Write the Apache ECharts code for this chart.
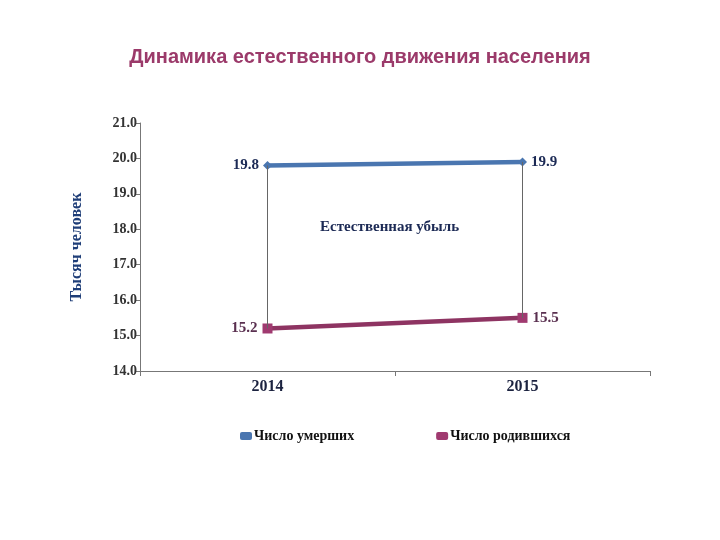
<!DOCTYPE html>
<html><head><meta charset="utf-8">
<script src="https://cdn.jsdelivr.net/npm/echarts@6/dist/echarts.min.js"></script>
<style>html,body{margin:0;padding:0;background:#fff}#c{width:720px;height:540px}</style>
</head><body><div id="c"></div>
<script>
const categories = ['2014', '2015'];
const deaths = [19.8, 19.9];
const births = [15.2, 15.5];
const yTicks = { min: 14, max: 21, interval: 1 };
const titleText = 'Динамика естественного движения населения';
const yName = 'Тысяч человек';
const noteText = 'Естественная убыль';
const seriesNames = ['Число умерших', 'Число родившихся'];

const serif = '"Liberation Serif", "DejaVu Serif", serif';
const chart = echarts.init(document.getElementById('c'));
const vLines = categories.map((c, i) => [
  { coord: [c, deaths[i]] }, { coord: [c, births[i]] }
]);
const withLabelSide = arr => arr.map((v, i) => ({
  value: v, label: { position: i === 0 ? 'left' : 'right' }
}));
chart.setOption({
  animation: false,
  title: {
    text: titleText, left: 'center', top: 42,
    textStyle: { fontFamily: '"Liberation Sans", Arial, sans-serif', fontSize: 20, fontWeight: 'bold', color: '#9b3a6a' }
  },
  grid: { left: 140, right: 70, top: 123, bottom: 169 },
  legend: {
    bottom: 92, left: 235, itemGap: 82, itemWidth: 12, itemHeight: 8,
    textStyle: { fontFamily: serif, fontSize: 14, fontWeight: 'bold', color: '#111', padding: [0, 0, 0, -3] },
    data: [
      { name: seriesNames[0], icon: 'roundRect' },
      { name: seriesNames[1], icon: 'roundRect' }
    ]
  },
  xAxis: {
    type: 'category', data: categories, boundaryGap: true,
    axisLine: { lineStyle: { color: '#777' } },
    axisTick: { show: true, length: 5, lineStyle: { color: '#777' } },
    axisLabel: { fontFamily: serif, fontSize: 16, fontWeight: 'bold', color: '#1c2340', margin: 8 }
  },
  yAxis: {
    type: 'value', min: yTicks.min, max: yTicks.max, interval: yTicks.interval,
    name: yName, nameLocation: 'middle', nameGap: 55, nameRotate: 90,
    nameTextStyle: { fontFamily: serif, fontSize: 16, fontWeight: 'bold', color: '#1f3e78' },
    axisLine: { show: true, lineStyle: { color: '#777' } },
    axisTick: { show: true, length: 4, lineStyle: { color: '#777' } },
    splitLine: { show: false },
    axisLabel: { fontFamily: serif, fontSize: 14, fontWeight: 'bold', color: '#333', margin: 3,
      formatter: v => v.toFixed(1) }
  },
  series: [
    {
      name: seriesNames[0], type: 'line', data: withLabelSide(deaths),
      symbol: 'diamond', symbolSize: 9,
      lineStyle: { width: 4.5, color: '#4a76b0' },
      itemStyle: { color: '#4a76b0' },
      label: { show: true, fontFamily: serif, fontSize: 15, fontWeight: 'bold', color: '#1c2a55',
        formatter: p => p.value.toFixed(1), distance: 4 },
      markLine: {
        silent: true, symbol: 'none',
        lineStyle: { color: '#666', width: 1, type: 'solid' },
        label: { show: false },
        data: vLines
      },
      z: 3
    },
    {
      name: seriesNames[1], type: 'line', data: withLabelSide(births),
      symbol: 'rect', symbolSize: 10,
      lineStyle: { width: 4.5, color: '#8e3462' },
      itemStyle: { color: '#a03a70' },
      label: { show: true, fontFamily: serif, fontSize: 15, fontWeight: 'bold', color: '#5a3050',
        formatter: p => p.value.toFixed(1), distance: 5 },
      z: 3
    }
  ],
  graphic: [{
    type: 'text', left: 320, top: 220,
    style: { text: noteText, fontFamily: serif, fontSize: 15, fontWeight: 'bold', fill: '#1c2a55' }
  }]
});
</script></body></html>
